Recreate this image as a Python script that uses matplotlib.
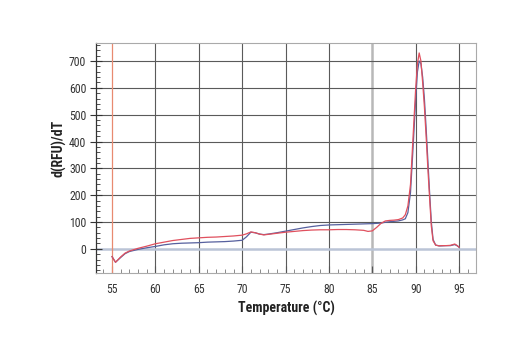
import matplotlib
matplotlib.use("Agg")
import matplotlib.pyplot as plt
from matplotlib.ticker import MultipleLocator

plt.rcParams['font.family'] = ['Roboto Condensed', 'DejaVu Sans']

# Melt curve derivative, two replicates
temp_red = [55.0, 55.4, 56.0, 56.5, 57, 58, 59, 60, 61, 62, 63, 64, 65, 66, 67, 68, 69, 70,
            70.5, 71, 71.5, 72, 72.5, 73, 74, 75, 76, 77, 78, 79, 80, 81, 82, 83, 84, 84.5,
            85, 85.5, 86, 86.5, 87, 87.5, 88, 88.5, 88.8, 89.1, 89.4, 89.7, 90.0, 90.2, 90.4,
            90.6, 90.8, 91.0, 91.2, 91.4, 91.6, 91.8, 92.0, 92.3, 92.7, 93, 93.5, 94, 94.5,
            94.8, 95]
drfu_red = [-29, -50, -30, -16, -8, 2, 10, 19, 25, 31, 35, 39, 41, 43, 44, 46, 48, 51,
            56, 63, 60, 55, 52, 54, 58, 62, 65, 68, 70, 71, 71, 72, 72, 71, 69, 65,
            67, 80, 95, 104, 106, 107, 109, 115, 127, 160, 240, 420, 600, 690, 730,
            700, 620, 530, 420, 300, 190, 85, 30, 14, 11, 12, 12, 13, 18,
            12, 6]

temp_blue = [55.0, 55.4, 56.0, 56.5, 57, 58, 59, 60, 61, 62, 63, 64, 65, 66, 67, 68, 69, 70,
             70.5, 71, 71.5, 72, 72.5, 73, 74, 75, 76, 77, 78, 79, 80, 81, 82, 83, 84, 85,
             86, 86.5, 87, 88, 88.5, 88.8, 89.1, 89.4, 89.7, 90.0, 90.2, 90.4, 90.6, 90.8,
             91.0, 91.2, 91.4, 91.6, 91.8, 92.0, 92.3, 92.7, 93, 93.5, 94, 94.5, 94.8, 95]
drfu_blue = [-29, -50, -32, -18, -10, -2, 4, 9, 15, 19, 21, 22, 23, 25, 26, 27, 29, 32,
             45, 62, 60, 55, 53, 55, 60, 66, 72, 78, 83, 87, 89, 90, 91, 92, 93, 94,
             96, 99, 101, 104, 108, 112, 135, 210, 380, 560, 660, 700, 690, 640,
             560, 450, 330, 210, 100, 35, 14, 11, 11, 12, 12, 16, 11, 6]

x_ticks = [55, 60, 65, 70, 75, 80, 85, 90, 95]
y_ticks = [0, 100, 200, 300, 400, 500, 600, 700]

fig = plt.figure(figsize=(5.2, 3.5), dpi=100)
ax = fig.add_axes([0.1846, 0.22, 0.7308, 0.6571])
ax.set_xlim(53.15, 96.95)
ax.set_ylim(-90, 767)

# grid
for t in x_ticks:
    if t == 55:
        continue
    if t == 85:
        ax.axvline(t, color='#b8b8b8', lw=1.8, zorder=1)
    else:
        ax.axvline(t, color='#5a5a5a', lw=0.8, zorder=1)
for v in y_ticks[1:]:
    ax.axhline(v, color='#5a5a5a', lw=0.8, zorder=1)
ax.axhline(0, color='#bac4d6', lw=1.8, zorder=1)
ax.axvline(55, color='#e88a70', lw=0.9, zorder=2)

ax.plot(temp_blue, drfu_blue, color='#56609e', lw=0.9, zorder=3)
ax.plot(temp_red, drfu_red, color='#e0505e', lw=0.9, zorder=4)

ax.set_xticks(x_ticks)
ax.set_yticks(y_ticks)
ax.xaxis.set_minor_locator(MultipleLocator(1))
ax.yaxis.set_minor_locator(MultipleLocator(20))
ax.tick_params(axis='x', which='major', direction='in', length=5, color='#555555',
               labelsize=8.5, labelcolor='#333333', pad=7)
ax.tick_params(axis='x', which='minor', direction='in', length=3, color='#777777')
ax.tick_params(axis='y', which='major', direction='inout', length=8, color='#333333',
               labelsize=8.5, labelcolor='#333333', pad=3)
ax.tick_params(axis='y', which='minor', direction='in', length=3, color='#333333')

for side in ['top', 'right', 'bottom']:
    ax.spines[side].set_color('#aaaaaa')
    ax.spines[side].set_linewidth(0.8)
ax.spines['left'].set_color('#333333')
ax.spines['left'].set_linewidth(0.9)

ax.set_xlabel('Temperature (°C)', fontsize=10, fontweight='bold', color='#222222', labelpad=4)
ax.set_ylabel('d(RFU)/dT', fontsize=10, fontweight='bold', color='#222222', labelpad=2)
ax.yaxis.label.set_y(0.54)

fig.savefig('out.png', dpi=100)
